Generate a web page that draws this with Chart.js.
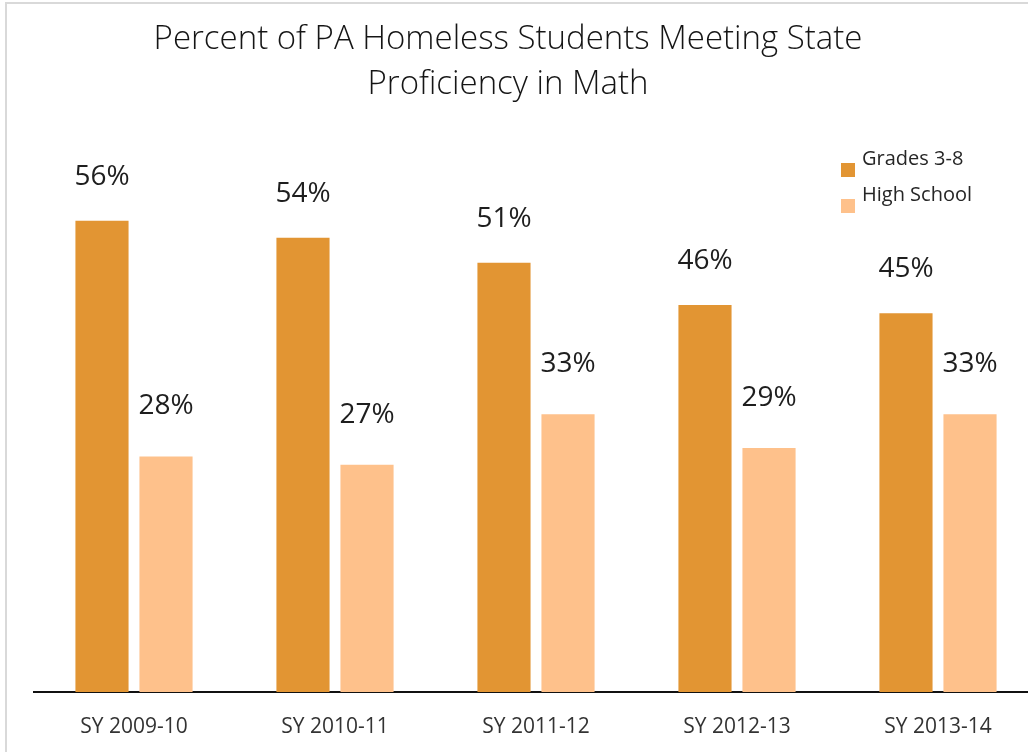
<!DOCTYPE html>
<html>
<head>
<meta charset="utf-8">
<script src="https://cdn.jsdelivr.net/npm/chart.js@4.4.1/dist/chart.umd.min.js"></script>
<style>
  html, body { margin: 0; padding: 0; background: #fff; overflow: hidden; width: 1028px; height: 752px; }
  #frame { position: absolute; left: 5px; top: 2px; border-left: 2px solid #d9d9d9; border-top: 2px solid #d9d9d9; width: 1045px; height: 748px; }
  #c { display: block; }
</style>
</head>
<body>
<div id="frame"><canvas id="c" width="1045" height="748"></canvas></div>
<script>
const titleLines = ["Percent of PA Homeless Students Meeting State", "Proficiency in Math"];
const categories = ["SY 2009-10", "SY 2010-11", "SY 2011-12", "SY 2012-13", "SY 2013-14"];
const seriesNames = ["Grades 3-8", "High School"];
const grades38 = [56, 54, 51, 46, 45];
const highSchool = [28, 27, 33, 29, 33];

const FONT = "'Open Sans', 'Noto Sans', sans-serif";
const colors = ["#E29533", "#FEC18B"];

const overlay = {
  id: 'overlay',
  afterDatasetsDraw(chart) {
    const ctx = chart.ctx;
    ctx.save();
    // data labels
    const offsets = [36, 42];
    ctx.fillStyle = '#1e1e1e';
    ctx.font = "28px " + FONT;
    ctx.textAlign = 'center';
    ctx.textBaseline = 'alphabetic';
    chart.data.datasets.forEach((ds, di) => {
      const meta = chart.getDatasetMeta(di);
      meta.data.forEach((bar, i) => {
        ctx.fillText(ds.data[i] + '%', bar.x, bar.y - offsets[di]);
      });
    });
    // title
    ctx.fillStyle = '#151515';
    ctx.font = "300 33px " + FONT;
    ctx.fillText(titleLines[0], 501, 45);
    ctx.fillText(titleLines[1], 501, 90);
    // legend
    ctx.textAlign = 'left';
    ctx.font = "20px " + FONT;
    const legY = [159, 195];
    chart.data.datasets.forEach((ds, di) => {
      ctx.fillStyle = ds.backgroundColor;
      ctx.fillRect(834, legY[di], 14, 14);
      ctx.fillStyle = '#262626';
      ctx.fillText(ds.label, 855, legY[di] + 2);
    });
    ctx.restore();
  }
};

new Chart(document.getElementById('c'), {
  type: 'bar',
  data: {
    labels: categories,
    datasets: [
      { label: seriesNames[0], data: grades38, backgroundColor: colors[0] },
      { label: seriesNames[1], data: highSchool, backgroundColor: colors[1] }
    ]
  },
  options: {
    responsive: false,
    animation: false,
    events: [],
    layout: { padding: { top: 99, bottom: 5, left: 26.5, right: 13.5 } },
    datasets: { bar: { categoryPercentage: 0.637, barPercentage: 0.83 } },
    plugins: { legend: { display: false }, title: { display: false }, tooltip: { enabled: false } },
    scales: {
      x: {
        grid: { display: false, drawTicks: false },
        border: { display: true, color: '#111', width: 2 },
        ticks: { color: '#333', font: { family: FONT, size: 21 }, padding: 22 },
        afterFit(scale) { scale.height = 55; }
      },
      y: {
        display: false,
        min: 0,
        max: 70
      }
    }
  },
  plugins: [overlay]
});
</script>
</body>
</html>
